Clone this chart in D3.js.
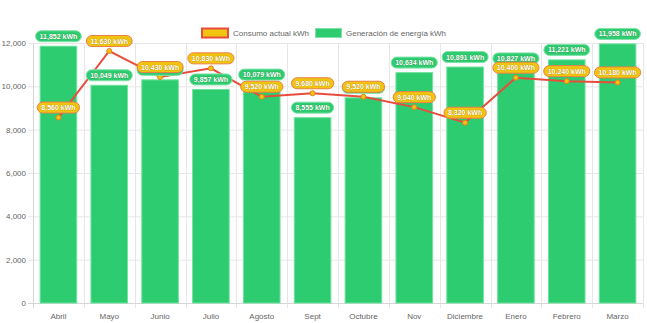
<!DOCTYPE html>
<html>
<head>
<meta charset="utf-8">
<script src="https://cdn.jsdelivr.net/npm/d3@7"></script>
<style>
  body { margin: 0; background: #fff; }
  svg { display: block; font-family: "Liberation Sans", Arial, sans-serif; }
</style>
</head>
<body>
<div id="chart"></div>
<script>
const meses = ["Abril", "Mayo", "Junio", "Julio", "Agosto", "Sept", "Octubre", "Nov", "Diciembre", "Enero", "Febrero", "Marzo"];
const generacion = [11852, 10049, 10300, 9857, 10079, 8555, 9470, 10634, 10891, 10827, 11221, 11958];
const consumo = [8560, 11630, 10430, 10830, 9520, 9680, 9520, 9040, 8320, 10400, 10240, 10180];
const yTicks = [0, 2000, 4000, 6000, 8000, 10000, 12000];

const W = 647, H = 323;
const m = {top: 43, right: 4, bottom: 20, left: 33};

const svg = d3.select("#chart").append("svg")
  .attr("width", W)
  .attr("height", H);

const x = d3.scaleBand().domain(meses).range([m.left, W - m.right]).padding(0);
const y = d3.scaleLinear().domain([0, 12000]).range([H - m.bottom, m.top]);

const fmt = d3.format(",");
const grid = "#e6e6e6";

// rejilla horizontal
svg.append("g").selectAll("line")
  .data(yTicks).enter().append("line")
  .attr("x1", m.left - 5).attr("x2", W - m.right)
  .attr("y1", d => y(d) + 0.5).attr("y2", d => y(d) + 0.5)
  .attr("stroke", grid);

// rejilla vertical entre categorías
const bordes = meses.map(d => x(d)).concat([x.range()[1]]);
svg.append("g").selectAll("line")
  .data(bordes).enter().append("line")
  .attr("x1", d => Math.round(d) + 0.5).attr("x2", d => Math.round(d) + 0.5)
  .attr("y1", m.top).attr("y2", H - m.bottom + 5)
  .attr("stroke", grid);

// ejes
svg.append("line")
  .attr("x1", m.left + 0.5).attr("x2", m.left + 0.5)
  .attr("y1", m.top).attr("y2", H - m.bottom + 5)
  .attr("stroke", "#d6d6d6");
svg.append("line")
  .attr("x1", m.left - 5).attr("x2", W - m.right)
  .attr("y1", y(0) + 0.5).attr("y2", y(0) + 0.5)
  .attr("stroke", "#d6d6d6");

svg.append("g").selectAll("text")
  .data(yTicks).enter().append("text")
  .attr("x", m.left - 7)
  .attr("y", d => y(d) + 3)
  .attr("text-anchor", "end")
  .attr("font-size", 8)
  .attr("fill", "#666")
  .text(d => fmt(d));

svg.append("g").selectAll("text")
  .data(meses).enter().append("text")
  .attr("x", d => x(d) + x.bandwidth() / 2)
  .attr("y", H - m.bottom + 16)
  .attr("text-anchor", "middle")
  .attr("font-size", 8)
  .attr("fill", "#666")
  .text(d => d);

// barras de generación
const bw = x.bandwidth() * 0.72;
svg.append("g").selectAll("rect")
  .data(generacion).enter().append("rect")
  .attr("x", (d, i) => x(meses[i]) + (x.bandwidth() - bw) / 2)
  .attr("y", d => y(d))
  .attr("width", bw)
  .attr("height", d => y(0) - y(d))
  .attr("fill", "#2ecc71")
  .attr("stroke", "#6fe39e")
  .attr("stroke-width", 1);

// línea de consumo
const cx = i => x(meses[i]) + x.bandwidth() / 2;
svg.append("path")
  .datum(consumo)
  .attr("d", d3.line().x((d, i) => cx(i)).y(d => y(d)))
  .attr("fill", "none")
  .attr("stroke", "#e74c3c")
  .attr("stroke-width", 2);

svg.append("g").selectAll("circle")
  .data(consumo).enter().append("circle")
  .attr("cx", (d, i) => cx(i))
  .attr("cy", d => y(d))
  .attr("r", 2.5)
  .attr("fill", "#f1c40f")
  .attr("stroke", "#e67e22")
  .attr("stroke-width", 1);

// etiquetas de valor
function etiquetas(valores, fill, stroke) {
  const g = svg.append("g").selectAll("g")
    .data(valores).enter().append("g")
    .attr("transform", (d, i) => `translate(${cx(i)},${y(d) - 10})`);
  g.append("text")
    .attr("text-anchor", "middle")
    .attr("y", 2.5)
    .attr("font-size", 7)
    .attr("font-weight", "bold")
    .attr("fill", "#fff")
    .attr("stroke", "rgba(60,40,0,0.45)")
    .attr("stroke-width", 0.5)
    .attr("paint-order", "stroke")
    .text(d => fmt(d) + " kWh");
  g.insert("rect", "text")
    .each(function() {
      const w = this.nextSibling.getComputedTextLength() + 8;
      d3.select(this)
        .attr("x", -w / 2).attr("y", -5.5)
        .attr("width", w).attr("height", 11);
    })
    .attr("rx", 5.5)
    .attr("fill", fill)
    .attr("stroke", stroke)
    .attr("stroke-width", 1);
}
etiquetas(generacion, "#2ecc71", "#7fe3a8");
etiquetas(consumo, "#f1c40f", "#e9804a");

// leyenda
const ley = svg.append("g").attr("font-size", 8).attr("fill", "#666");
ley.append("rect").attr("x", 202).attr("y", 28.5).attr("width", 26).attr("height", 9)
  .attr("fill", "#f1c40f").attr("stroke", "#e74c3c").attr("stroke-width", 2);
ley.append("text").attr("x", 233).attr("y", 36).text("Consumo actual kWh");
ley.append("rect").attr("x", 315.5).attr("y", 28.5).attr("width", 26).attr("height", 9)
  .attr("fill", "#2ecc71").attr("stroke", "#7fe3a8").attr("stroke-width", 1);
ley.append("text").attr("x", 346).attr("y", 36).text("Generación de energía kWh");
</script>
</body>
</html>
